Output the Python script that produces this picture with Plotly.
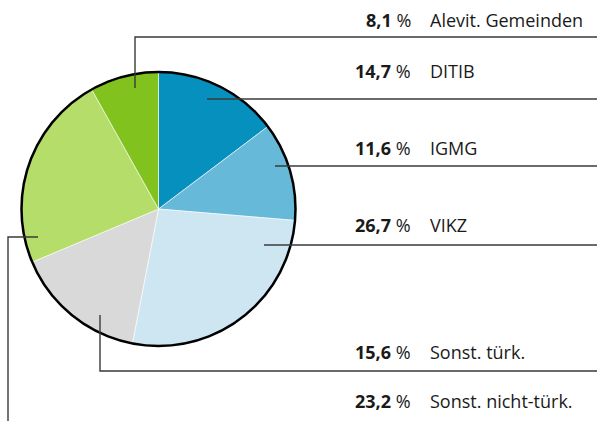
import plotly.graph_objects as go

W, H = 597, 421

# slices in drawing order, clockwise from 12 o'clock
names = ["DITIB", "IGMG", "VIKZ", "Sonst. türk.", "Sonst. nicht-türk.", "Alevit. Gemeinden"]
shares = [14.7, 11.6, 26.7, 15.6, 23.2, 8.1]
share_labels = ["14,7", "11,6", "26,7", "15,6", "23,2", "8,1"]
colors = ["#0590be", "#66b9d9", "#cde6f1", "#d9d9d9", "#b5dd6a", "#82c21e"]

# pie geometry in pixels
cx, cy, r = 158.5, 209, 137

# label rows (text centre y) and leader line paths, in pixels
label_y = {"Alevit. Gemeinden": 20, "DITIB": 71, "IGMG": 148, "VIKZ": 225,
           "Sonst. türk.": 352, "Sonst. nicht-türk.": 401}
leaders = {
    "Alevit. Gemeinden": [(135, 88), (135, 37), (597, 37)],
    "DITIB": [(207, 99), (597, 99)],
    "IGMG": [(275, 166), (597, 166)],
    "VIKZ": [(264, 245), (597, 245)],
    "Sonst. türk.": [(100, 315), (100, 371), (597, 371)],
    "Sonst. nicht-türk.": [(38, 237), (8, 237), (8, 421)],
}


def px(x):
    return x / W


def py(y):
    return 1 - y / H


fig = go.Figure(go.Pie(
    labels=names, values=shares, sort=False, direction="clockwise", rotation=0,
    marker=dict(colors=colors, line=dict(color="white", width=0.6)),
    textinfo="none", hoverinfo="label+percent", showlegend=False,
    domain=dict(x=[px(cx - r), px(cx + r)], y=[py(cy + r), py(cy - r)]),
))

shapes = [dict(type="circle", xref="paper", yref="paper",
               x0=px(cx - r), x1=px(cx + r), y0=py(cy + r), y1=py(cy - r),
               line=dict(color="black", width=2.5))]
for name, pts in leaders.items():
    path = "M " + " L ".join(f"{px(x):.5f},{py(y):.5f}" for x, y in pts)
    shapes.append(dict(type="path", xref="paper", yref="paper", path=path,
                       line=dict(color="#3a3a3a", width=1.4)))

annotations = []
for name, val in zip(names, share_labels):
    y = py(label_y[name])
    annotations.append(dict(text=f"<b>{val}</b> %", x=px(413), y=y, xref="paper", yref="paper",
                            xanchor="right", yanchor="middle", showarrow=False,
                            font=dict(size=18)))
    annotations.append(dict(text=name, x=px(428), y=y, xref="paper", yref="paper",
                            xanchor="left", yanchor="middle", showarrow=False))

fig.update_layout(
    width=W, height=H, margin=dict(l=0, r=0, t=0, b=0),
    paper_bgcolor="white", plot_bgcolor="white",
    font=dict(family="Open Sans", size=18, color="#1a1a1a"),
    shapes=shapes, annotations=annotations,
)

fig.write_html("out.html", config={"displayModeBar": False},
               post_script="document.body.style.margin = '0';")
